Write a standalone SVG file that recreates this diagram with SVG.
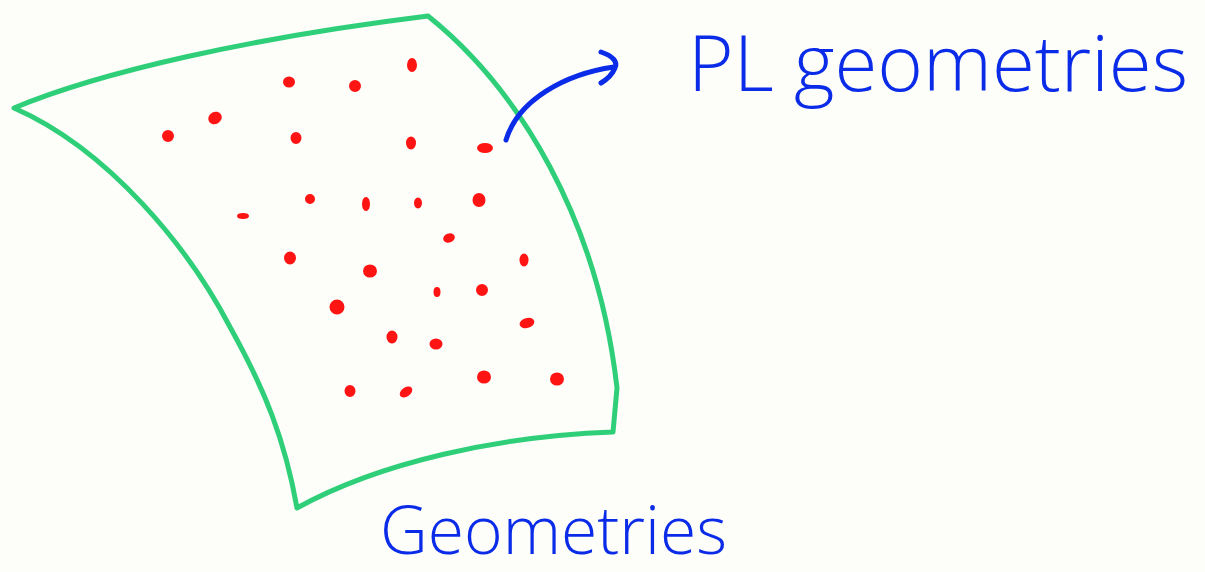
<svg xmlns="http://www.w3.org/2000/svg" width="1205" height="572" viewBox="0 0 1205 572">
<style>
.g{fill:none;stroke:#2fcf7a;stroke-width:5;stroke-linecap:round;stroke-linejoin:round}
.b{fill:none;stroke:#0a2be8;stroke-width:5;stroke-linecap:round;stroke-linejoin:round}
.d{fill:#ff1414;stroke:#ff1414;stroke-width:2}
.t{font-family:"Open Sans","Liberation Sans",sans-serif;fill:#0a2be8;font-weight:300}
</style>
<rect width="1205" height="572" fill="#fdfdf9"/>
<g id="surface">
<path class="g" d="M14,108 C100,72 250,38 428,16 C520,90 598,220 617,388 L613,432 C500,436 380,462 297,508 C285,440 265,390 230,327 C190,250 110,150 14,108 Z"/>
</g>
<g id="points">
<ellipse class="d" cx="289" cy="82" rx="5" ry="4.5"/>
<ellipse class="d" cx="355" cy="86" rx="5" ry="5"/>
<ellipse class="d" cx="412" cy="65" rx="4" ry="6"/>
<ellipse class="d" cx="168" cy="136" rx="5" ry="5"/>
<ellipse class="d" cx="215" cy="118" rx="6" ry="5" transform="rotate(-30 215 118)"/>
<ellipse class="d" cx="296" cy="138" rx="4.5" ry="5"/>
<ellipse class="d" cx="411" cy="143" rx="4" ry="5.5"/>
<ellipse class="d" cx="485" cy="148" rx="7" ry="4"/>
<ellipse class="d" cx="243" cy="216" rx="5" ry="2"/>
<ellipse class="d" cx="310" cy="199" rx="4" ry="4"/>
<ellipse class="d" cx="366" cy="204" rx="3" ry="6"/>
<ellipse class="d" cx="418" cy="203" rx="3" ry="4.5"/>
<ellipse class="d" cx="479" cy="200" rx="5.5" ry="6"/>
<ellipse class="d" cx="449" cy="238" rx="5" ry="3.5" transform="rotate(-20 449 238)"/>
<ellipse class="d" cx="290" cy="258" rx="5" ry="5.5"/>
<ellipse class="d" cx="370" cy="271" rx="6" ry="5.5"/>
<ellipse class="d" cx="524" cy="260" rx="3.5" ry="5.5"/>
<ellipse class="d" cx="437" cy="292" rx="2.5" ry="4"/>
<ellipse class="d" cx="482" cy="290" rx="5" ry="5"/>
<ellipse class="d" cx="337" cy="307" rx="6.5" ry="6.5"/>
<ellipse class="d" cx="527" cy="323" rx="6.5" ry="4" transform="rotate(-15 527 323)"/>
<ellipse class="d" cx="392" cy="337" rx="4.5" ry="5.5"/>
<ellipse class="d" cx="436" cy="344" rx="5.5" ry="4.5"/>
<ellipse class="d" cx="350" cy="391" rx="4.5" ry="5"/>
<ellipse class="d" cx="406" cy="392" rx="6" ry="3.5" transform="rotate(-35 406 392)"/>
<ellipse class="d" cx="484" cy="377" rx="6" ry="5.5"/>
<ellipse class="d" cx="557" cy="379" rx="6" ry="5.5"/>
</g>
<g id="connectors">
<path class="b" d="M506,140 C518,100 565,74 614,67"/>
<path class="b" d="M601,52 C613,56 618,62 615,68 C612,75 606,80 601,83"/>
</g>
<g id="label-pl">
<text class="t" x="688" y="91" font-size="78">PL geometries</text>
</g>
<g id="label-geom">
<text class="t" x="380" y="554" font-size="66">Geometries</text>
</g>
</svg>
